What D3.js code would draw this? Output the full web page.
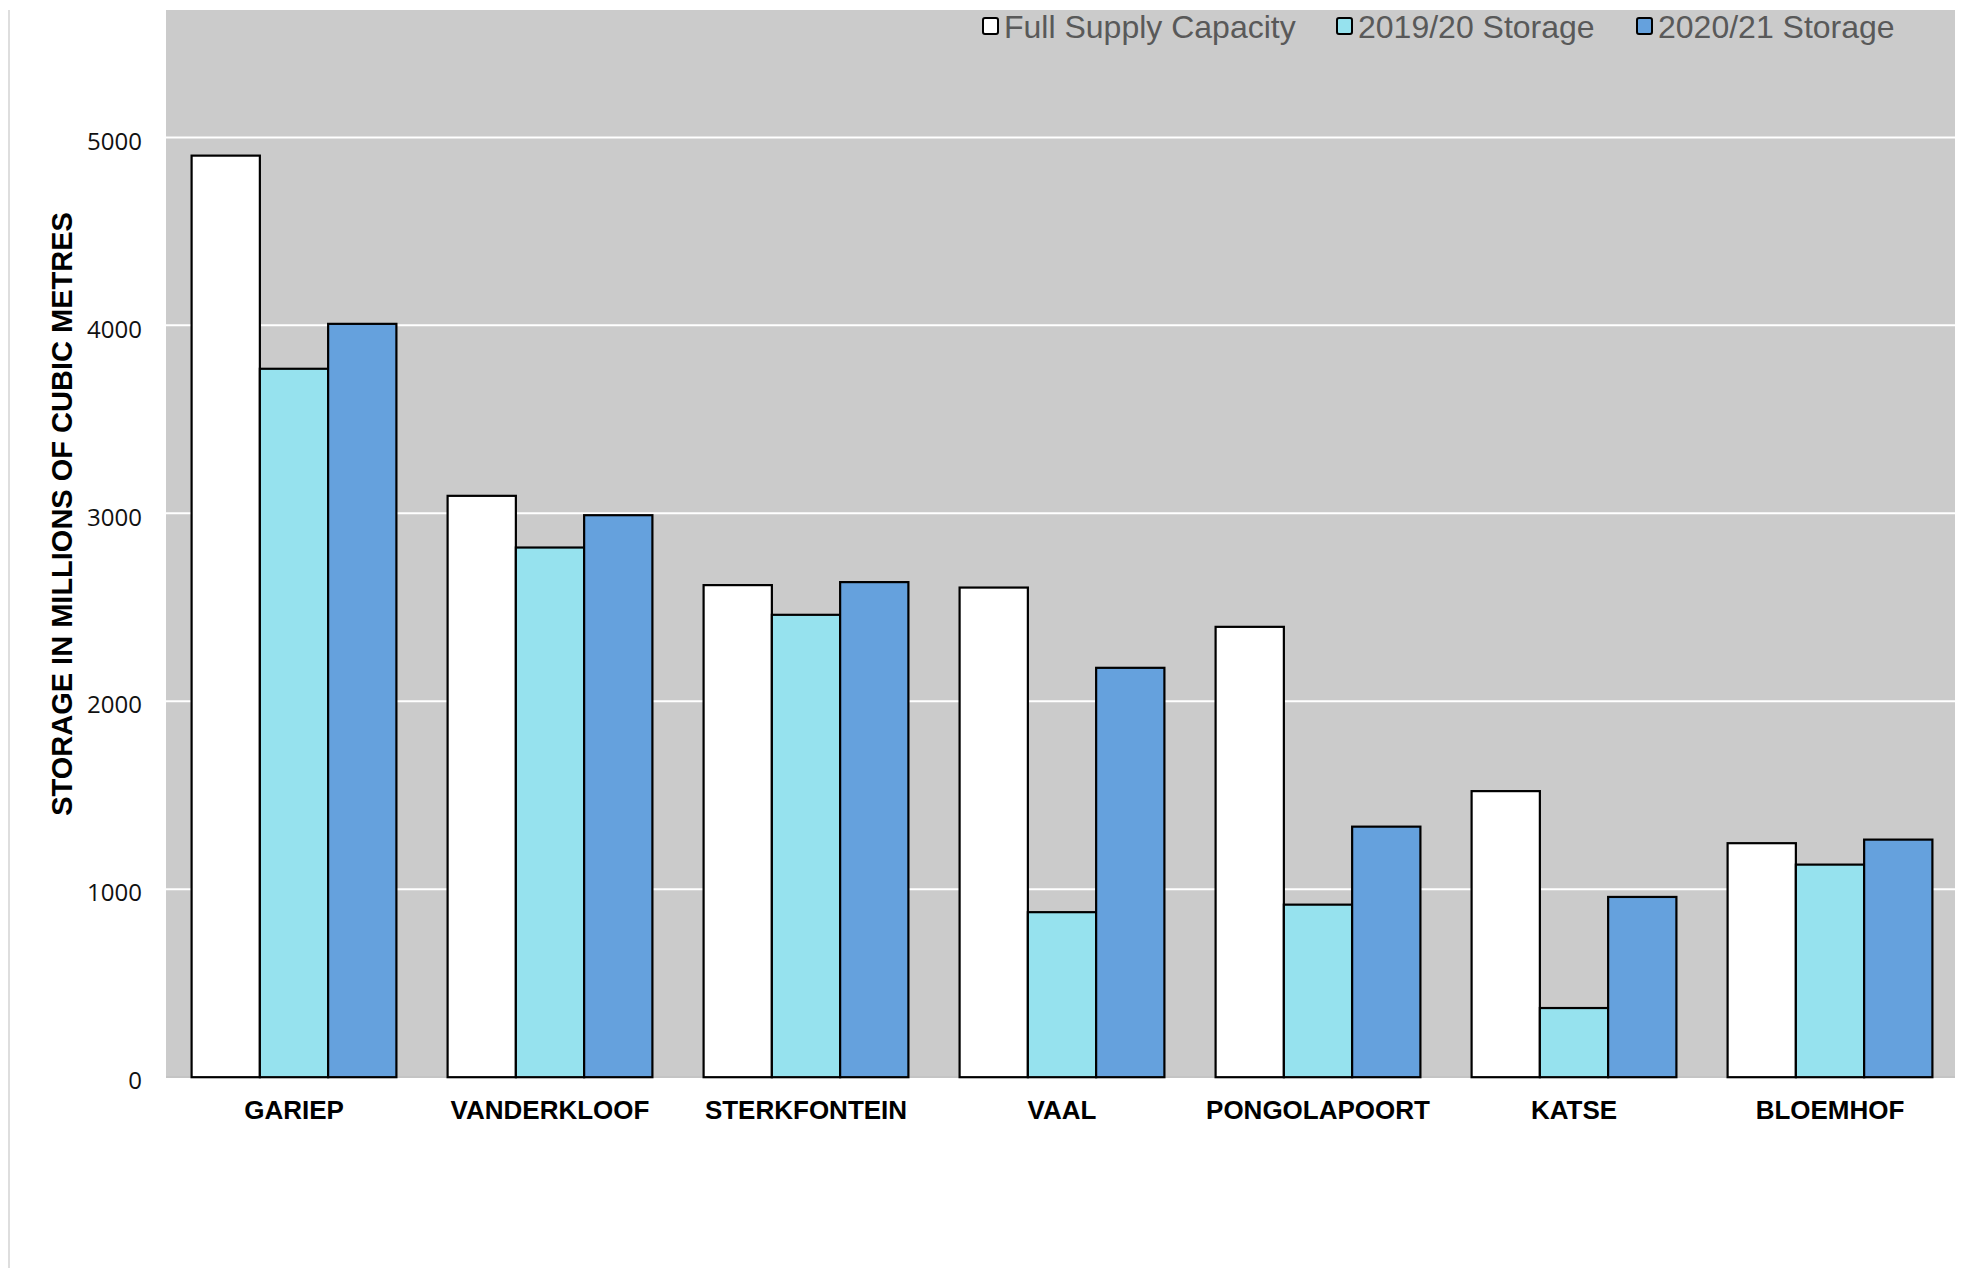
<!DOCTYPE html>
<html>
<head>
<meta charset="utf-8">
<script src="https://cdn.jsdelivr.net/npm/d3@7"></script>
<style>
  html, body { margin: 0; padding: 0; background: #ffffff; }
  svg { display: block; }
</style>
</head>
<body>
<svg id="chart" width="1966" height="1268"></svg>
<script>
const categories = ["GARIEP", "VANDERKLOOF", "STERKFONTEIN", "VAAL", "PONGOLAPOORT", "KATSE", "BLOEMHOF"];
const seriesNames = ["Full Supply Capacity", "2019/20 Storage", "2020/21 Storage"];
const fullSupply = [4903, 3093, 2618, 2605, 2396, 1522, 1245];
const storage1920 = [3769, 2818, 2460, 878, 918, 368, 1131];
const storage2021 = [4008, 2990, 2634, 2178, 1333, 959, 1264];
const yTicks = [0, 1000, 2000, 3000, 4000, 5000];
const yTitle = "STORAGE IN MILLIONS OF CUBIC METRES";
const colors = ["#ffffff", "#96e2ee", "#65a1dd"];

const seriesValues = [fullSupply, storage1920, storage2021];

const svg = d3.select("#chart");
const plot = { left: 166, right: 1955, top: 10, bottom: 1077 };

svg.append("line")
  .attr("x1", 9).attr("x2", 9).attr("y1", 10).attr("y2", 1268)
  .attr("stroke", "#dedede").attr("stroke-width", 2);

const y = d3.scaleLinear().domain([0, 5000]).range([1077.2, 137.4]);
const x0 = d3.scaleBand().domain(categories).range([166, 1958]).paddingInner(0.2).paddingOuter(0.1);
const x1 = d3.scaleBand().domain(seriesNames).range([0, x0.bandwidth()]).padding(0);

svg.append("rect")
  .attr("x", plot.left).attr("y", plot.top)
  .attr("width", plot.right - plot.left).attr("height", plot.bottom - plot.top)
  .attr("fill", "#cbcbcb");

svg.append("g").selectAll("line")
  .data(yTicks.filter(d => d > 0))
  .join("line")
  .attr("x1", plot.left).attr("x2", plot.right)
  .attr("y1", d => y(d)).attr("y2", d => y(d))
  .attr("stroke", "#ffffff").attr("stroke-width", 2);

svg.append("line")
  .attr("x1", plot.left).attr("x2", plot.right)
  .attr("y1", plot.bottom).attr("y2", plot.bottom)
  .attr("stroke", "#c4c4c4").attr("stroke-width", 2);

const yAxis = d3.axisLeft(y).tickValues(yTicks).tickSize(0).tickPadding(0).tickFormat(d3.format("d"));
const yg = svg.append("g").attr("transform", "translate(142,4)").call(yAxis);
yg.select(".domain").remove();
yg.selectAll("text")
  .attr("font-family", "'Open Sans', sans-serif")
  .attr("font-size", 24)
  .attr("fill", "#111");

const groups = svg.append("g").selectAll("g")
  .data(categories)
  .join("g")
  .attr("transform", d => `translate(${x0(d)},0)`);

groups.selectAll("rect")
  .data((c, i) => seriesNames.map((s, j) => ({ s, j, v: seriesValues[j][i] })))
  .join("rect")
  .attr("x", d => x1(d.s))
  .attr("y", d => y(d.v))
  .attr("width", x1.bandwidth())
  .attr("height", d => y(0) - y(d.v))
  .attr("fill", d => colors[d.j])
  .attr("stroke", "#000")
  .attr("stroke-width", 2.2);

const xAxis = d3.axisBottom(x0).tickSize(0).tickPadding(0);
const xg = svg.append("g").attr("transform", "translate(0,1101)").call(xAxis);
xg.select(".domain").remove();
xg.selectAll("text")
  .attr("font-family", "'Liberation Sans', Arial, sans-serif")
  .attr("font-weight", "bold")
  .attr("font-size", 26)
  .attr("fill", "#000")
  .attr("dy", "0.71em");

svg.append("text")
  .attr("transform", "translate(72,514) rotate(-90)")
  .attr("text-anchor", "middle")
  .attr("font-family", "'Liberation Sans', Arial, sans-serif")
  .attr("font-weight", "bold")
  .attr("font-size", 29)
  .attr("fill", "#000")
  .text(yTitle);

const legendX = [982, 1336, 1636];
const legend = svg.append("g").selectAll("g")
  .data(seriesNames)
  .join("g")
  .attr("transform", (d, i) => `translate(${legendX[i]},0)`);
legend.append("rect")
  .attr("x", 1).attr("y", 18).attr("width", 15).attr("height", 16)
  .attr("rx", 2)
  .attr("fill", (d, i) => colors[i])
  .attr("stroke", "#000").attr("stroke-width", 2);
legend.append("text")
  .attr("x", 22).attr("y", 38)
  .attr("font-family", "'Liberation Sans', Arial, sans-serif")
  .attr("font-size", 32)
  .attr("fill", "#595959")
  .text(d => d);
</script>
</body>
</html>
